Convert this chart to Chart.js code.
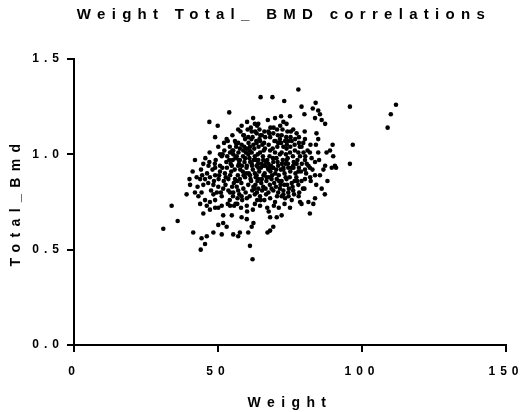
<!DOCTYPE html>
<html>
<head>
<meta charset="utf-8">
<script src="https://cdn.jsdelivr.net/npm/chart.js@4/dist/chart.umd.min.js"></script>
<style>
  html, body { margin: 0; padding: 0; background: #fff; }
  #wrap { width: 520px; height: 412px; }
</style>
</head>
<body>
<div id="wrap"><canvas id="c" width="520" height="412"></canvas></div>
<script>
// Labels
const chartTitle = 'Weight Total_ BMD correlations';
const xTitle = 'Weight';
const yTitle = 'Total_Bmd';
const xTicks = [0, 50, 100, 150];
const yTicks = [0.0, 0.5, 1.0, 1.5];

// Body weight of each subject (rows line up with totalBmd below)
const weight = [
  31, 33.9, 36, 44, 61.1, 62, 54.2, 55.6, 56.7, 62.3, 49, 47.2,
  43.8, 45.5, 47.2, 49, 50.7, 52.4, 54.2, 55.9, 57.6, 59.4, 61.1, 62.8, 64,
  44.9, 46.6, 48.4, 50.1, 51.8, 53.6, 55.3, 57, 58.8, 60.5, 62.3, 64,
  48.4, 51.3, 54.2, 58.2, 60, 62.8, 64.6,
  40.3, 42, 43.2, 44.3, 45.5, 47.2, 49, 50.1, 51.3, 46.1, 44.9, 43.8,
  51.8, 54.8, 58.2, 60, 61.7, 60.5, 57.6, 57, 55.3, 53, 51.8, 50.1, 51.3, 48.4, 46.1, 44.3, 41.4, 45.5, 60,
  64.8, 53.9, 47, 49.9, 57, 62.8, 63.6, 49, 55, 52.1, 53,
  58.8, 59.4, 60.5, 61.7, 62, 63.4, 64.4,
  55.9, 57, 58.2, 56.3, 57.6, 58.8, 60, 61.1, 62.3, 63.4, 64.4,
  42, 44.9, 47, 51.6, 50.7, 54.2, 55.3, 56.5, 57.6, 59.4, 60.5, 61.7, 62.8, 64,
  53.9, 54.8, 57, 60, 61.7, 63.4, 50.7, 49,
  61.4, 53.4, 51.3, 55.3,
  68.9, 73, 77.9, 79, 83.9, 82.9, 85.4, 87.2, 80, 75, 83.7,
  64, 67.3, 69.8, 71.9, 72.7, 73.8, 76.1, 77.3, 84.2, 84.8, 80.2, 79.6, 79, 84, 84.8, 87.7, 88.9, 90,
  65.2, 64.6, 67.5, 68.1, 69.2, 70, 71.5, 73.3, 74.4, 75.6,
  70.9, 72.7, 73.8, 75, 76.7, 77.9, 78.5, 80.2, 81.9, 82.5, 81.4, 83.7, 77.3, 75.6, 73.8,
  71.5, 69.8, 68.1, 66.3, 64.6, 65.7, 67.5, 69.2, 70.9, 72.7, 68.6, 66.3,
  84.8, 95.8, 111.8, 110, 108.9, 86, 89.8, 96.8, 95.8, 91, 82, 79, 90.6,
  64, 65.7, 67.5, 69.2, 72.7, 74.4, 76.1, 77.9, 80.2, 81.9, 83.7, 85.4, 87.2, 89.5,
  63.4, 65.2, 66.9, 68.6, 70.4, 72.1, 73.8, 75.6, 79, 80.2, 86,
  65.3, 65.7, 67.5, 69.2, 70.9, 72.7, 74.4, 76.1, 77.9,
  68.1, 69.8, 72.1, 73.3, 75.6, 78.5, 81.4, 83.7, 83.1, 62.8, 64.6, 75,
  70.4, 72.1, 68.1, 81.9, 69.2, 68.1, 67.2,
  55.8, 57.3, 58.6, 59.9, 61.2, 62.1, 63.1, 64.3, 65.1, 66.2, 67.1, 68.2, 69.1, 70.2, 71.1, 72.2, 73.1, 74.2, 75.1, 76.3, 77.2, 78.1,
  56.5, 58.1, 59.6, 61.5, 63, 65, 66.5, 68, 70.1, 71.5, 73, 74.6, 76.6, 78.2,
  55.1, 57.1, 59.1, 60.6, 62.6, 64.1, 66, 67.6, 69, 70.6, 72.1, 73.6, 75.1, 76.6, 78.1,
  52, 53.1, 50.2, 48.1, 46.2, 47.6, 49.6, 52.6, 54.1, 56.1, 58, 60.1, 62.1, 63.6, 66.1, 67.1, 71.1, 73.1,
  66.1, 68.2, 70.5, 72.1, 74.1, 62.2, 60.1, 58.2, 71.6, 75.2, 78.1, 80.1, 81.1, 82.1, 80.3, 79.1, 80.6, 82.2, 78, 80, 85.1, 86.6, 88, 84.1, 87.1,
  56.2, 54.1, 52.2, 50.1, 49.2, 47.1, 45.6, 44.1, 42.6, 41.2, 40.1, 39.1,
  56.9, 58.3, 60.7, 62.4, 63.9, 65.6, 67.3, 68.8, 70.7, 71.8, 73.4, 74.9, 76.9, 66.8, 69.5, 71.2, 74, 61.9, 63.5, 57.4,
  55.5, 54.6, 53.6, 52.9, 51.5, 67.9, 69.6, 71.9, 73.9, 76, 77.6, 65.4, 63.8, 60.9, 59.2,
  57.8, 59.0, 60.3, 61.6, 62.9, 64.7, 66.4, 67.8, 69.3, 70.8, 72.4, 73.7, 75.3, 76.8, 78.4, 79.7, 58.7, 61.0, 63.3, 65.9,
  54.4, 56.0, 57.7, 59.8, 61.8, 63.2, 64.9, 66.6, 68.4, 70.3, 72.5, 74.3, 76.2, 78.8, 80.8, 82.8, 53.2, 55.0, 57.2, 59.7,
  48.6, 50.4, 52.7, 54.9, 56.7, 58.9, 61.3, 63.7, 65.8, 67.7, 69.9, 71.7, 73.5, 75.9, 77.5, 79.5, 46.7, 44.5, 42.9, 48.9,
  61.0, 62.7, 64.8, 66.7, 68.6, 70.5, 72.7, 74.5, 76.4, 58.4, 56.8, 55.2, 53.4, 51.0, 67.6, 69.4
];

// Total body bone mineral density of each subject
const totalBmd = [
  0.61, 0.73, 0.65, 0.50, 0.52, 0.45, 0.73, 0.73, 0.74, 0.64, 0.72, 0.71,
  0.87, 0.87, 0.88, 0.89, 0.91, 0.90, 0.89, 0.87, 0.87, 0.88, 0.89, 0.90, 0.87,
  0.84, 0.85, 0.84, 0.83, 0.82, 0.81, 0.80, 0.81, 0.82, 0.84, 0.83, 0.82,
  0.79, 0.78, 0.80, 0.78, 0.77, 0.79, 0.78,
  0.84, 0.80, 0.78, 0.80, 0.76, 0.75, 0.76, 0.72, 0.73, 0.73, 0.69, 0.74,
  0.68, 0.68, 0.67, 0.66, 0.62, 0.59, 0.59, 0.57, 0.58, 0.62, 0.64, 0.63, 0.58, 0.59, 0.57, 0.56, 0.59, 0.53, 0.73,
  1.30, 1.22, 1.17, 1.15, 1.13, 1.16, 1.15, 1.09, 1.10, 1.06, 1.08,
  1.10, 1.08, 1.09, 1.12, 1.09, 1.11, 1.13,
  1.07, 1.06, 1.05, 1.04, 1.03, 1.02, 1.03, 1.04, 1.05, 1.06, 1.08,
  0.97, 0.95, 0.96, 1.00, 1.00, 1.01, 1.00, 0.99, 0.97, 0.98, 1.00, 1.01, 0.99, 0.97,
  0.97, 0.94, 0.94, 0.94, 0.95, 0.94, 0.94, 0.93,
  1.14, 1.07, 0.99, 1.02,
  1.30, 1.28, 1.34, 1.25, 1.27, 1.24, 1.21, 1.16, 1.21, 1.20, 1.19,
  1.16, 1.18, 1.19, 1.20, 1.17, 1.16, 1.13, 1.11, 1.11, 1.08, 1.08, 1.06, 1.04, 1.05, 1.01, 1.01, 1.02, 0.99,
  1.10, 1.07, 1.12, 1.09, 1.11, 1.07, 1.08, 1.07, 1.07, 1.07,
  1.06, 1.04, 1.03, 1.01, 1.02, 1.01, 0.99, 0.97, 1.01, 0.98, 0.94, 0.96, 0.95, 0.93, 0.97,
  1.00, 1.01, 1.02, 1.03, 1.01, 0.97, 0.95, 0.96, 0.94, 0.93, 0.93, 0.94,
  1.23, 1.25, 1.26, 1.21, 1.14, 1.18, 1.05, 1.05, 0.95, 0.93, 0.88, 0.74, 0.94,
  0.93, 0.94, 0.92, 0.93, 0.92, 0.93, 0.94, 0.91, 0.92, 0.93, 0.89, 0.89, 0.94, 0.93,
  0.89, 0.87, 0.88, 0.87, 0.87, 0.86, 0.87, 0.85, 0.86, 0.87, 0.82,
  0.81, 0.83, 0.80, 0.81, 0.80, 0.79, 0.80, 0.81, 0.84,
  0.77, 0.75, 0.78, 0.77, 0.76, 0.75, 0.75, 0.77, 0.74, 0.74, 0.73, 0.72,
  0.67, 0.68, 0.67, 0.69, 0.62, 0.60, 0.59,
  0.92, 0.95, 0.91, 0.93, 0.96, 0.92, 0.88, 0.91, 0.95, 0.90, 0.97, 0.91, 0.98, 0.92, 0.89, 0.95, 0.90, 0.98, 0.91, 0.96, 0.88, 0.93,
  0.83, 0.85, 0.80, 0.86, 0.84, 0.85, 0.82, 0.84, 0.83, 0.82, 0.84, 0.82, 0.86, 0.80,
  0.97, 1.01, 1.04, 1.06, 1.03, 1.04, 1.06, 1.05, 1.03, 1.04, 1.01, 1.00, 1.04, 1.05, 1.06,
  0.86, 0.93, 0.87, 0.92, 0.90, 0.81, 0.80, 0.84, 0.76, 0.74, 0.72, 0.70, 0.71, 0.76, 0.76, 0.72, 0.72, 0.74,
  1.12, 1.14, 1.13, 1.10, 1.12, 1.19, 1.17, 1.15, 1.15, 1.09, 1.09, 1.12, 1.02, 1.05, 0.99, 0.95, 0.90, 0.86, 0.78, 0.82, 0.97, 0.92, 0.86, 0.84, 0.79,
  1.06, 1.04, 1.02, 1.04, 0.97, 1.01, 0.98, 0.92, 0.88, 0.91, 0.87, 0.79,
  0.89, 0.94, 0.90, 0.97, 0.95, 0.99, 0.93, 0.89, 0.96, 0.92, 0.95, 0.88, 0.90, 0.86, 0.85, 0.86, 0.84, 0.81, 0.80, 0.79,
  0.85, 0.91, 0.87, 0.96, 0.93, 0.99, 1.07, 1.06, 1.05, 0.99, 0.97, 1.05, 1.00, 0.98, 0.96,
  1.12, 1.10, 1.13, 1.08, 1.12, 1.10, 1.09, 1.11, 1.14, 1.10, 1.13, 1.09, 1.12, 1.08, 1.04, 1.01, 0.99, 1.02, 1.07, 1.02,
  0.95, 0.98, 0.92, 0.90, 0.94, 0.97, 0.93, 0.96, 0.94, 0.98, 0.97, 0.95, 0.93, 0.91, 0.95, 0.92, 0.99, 1.02, 0.97, 1.01,
  0.86, 0.89, 0.88, 0.83, 0.86, 0.89, 0.87, 0.86, 0.89, 0.88, 0.90, 0.84, 0.88, 0.83, 0.86, 0.82, 0.94, 0.89, 0.83, 0.95,
  0.78, 0.82, 0.76, 0.79, 0.82, 0.78, 0.81, 0.78, 0.79, 0.76, 0.77, 0.78, 0.74, 0.80, 0.70, 0.73
];

const canvas = document.getElementById('c');
const ctx = canvas.getContext('2d');

// Wide letter spacing for the bold labels, keyed by font size
const SPACING = { 15: 6.3, 14: 6.4, 12: 5 };
function spacingOf(font) {
  const m = /(\d+(?:\.\d+)?)px/.exec(font);
  return m ? (SPACING[Math.round(+m[1])] || 0) : 0;
}
const proto = CanvasRenderingContext2D.prototype;
ctx.fillText = function (text, x, y, maxWidth) {
  const s = spacingOf(this.font);
  this.letterSpacing = s + 'px';
  const a = this.textAlign;
  if (a === 'right' || a === 'end') x += s;
  if (maxWidth === undefined) proto.fillText.call(this, text, x, y);
  else proto.fillText.call(this, text, x, y, maxWidth);
  this.letterSpacing = '0px';
};
ctx.measureText = function (text) {
  this.letterSpacing = spacingOf(this.font) + 'px';
  const m = proto.measureText.call(this, text);
  this.letterSpacing = '0px';
  return m;
};

// Nudge the chart title slightly left of the plot-area centre
const titleOffset = {
  id: 'titleOffset',
  afterLayout(chart) {
    const t = chart.titleBlock;
    if (t) { t.left -= 6; t.right -= 6; }
  }
};

const FAMILY = "'Liberation Sans', Arial, sans-serif";
const tickFont = { family: FAMILY, size: 12, weight: 'bold' };
const axisTitleFont = { family: FAMILY, size: 14, weight: 'bold' };
const chartTitleFont = { family: FAMILY, size: 15, weight: 'bold' };
const n = Math.min(weight.length, totalBmd.length);
const points = [];
for (let i = 0; i < n; i++) points.push({ x: weight[i], y: totalBmd[i] });

const axisGrid = {
  display: true,
  drawOnChartArea: false,
  drawTicks: true,
  tickLength: 7,
  lineWidth: 2,
  tickWidth: 2,
  color: '#000',
  tickColor: '#000'
};

new Chart(ctx, {
  type: 'scatter',
  plugins: [titleOffset],
  data: {
    datasets: [{
      data: points,
      pointRadius: 2.3,
      pointHoverRadius: 2.3,
      pointBackgroundColor: '#000',
      pointBorderWidth: 0,
      pointBorderColor: '#000'
    }]
  },
  options: {
    responsive: false,
    animation: false,
    devicePixelRatio: 1,
    events: [],
    layout: { padding: { left: 0, right: 14, top: 0, bottom: 0 } },
    plugins: {
      legend: { display: false },
      tooltip: { enabled: false },
      title: {
        display: true,
        fullSize: false,
        text: chartTitle,
        color: '#000',
        font: chartTitleFont,
        padding: { top: 6, bottom: 35 }
      }
    },
    scales: {
      x: {
        type: 'linear',
        min: xTicks[0],
        max: xTicks[xTicks.length - 1],
        afterBuildTicks: s => { s.ticks = xTicks.map(v => ({ value: v })); },
        ticks: { color: '#000', font: tickFont, padding: 12, callback: v => String(v), maxRotation: 0 },
        grid: axisGrid,
        border: { display: true, color: '#000', width: 2 },
        title: { display: true, text: xTitle, color: '#000', font: axisTitleFont, padding: { top: 0, bottom: 0 } },
        afterFit: s => { s.height = 67; s.paddingLeft = 0; s.paddingRight = 0; }
      },
      y: {
        type: 'linear',
        min: yTicks[0],
        max: yTicks[yTicks.length - 1],
        afterBuildTicks: s => { s.ticks = yTicks.map(v => ({ value: v })); },
        ticks: { color: '#000', font: tickFont, padding: 8, callback: v => v.toFixed(1) },
        grid: axisGrid,
        border: { display: true, color: '#000', width: 2 },
        title: { display: true, text: yTitle, color: '#000', font: axisTitleFont, padding: { top: 7.6, bottom: 0 } },
        afterFit: s => { s.width = 74; s.paddingTop = 0; s.paddingBottom = 0; }
      }
    }
  }
});
</script>
</body>
</html>
